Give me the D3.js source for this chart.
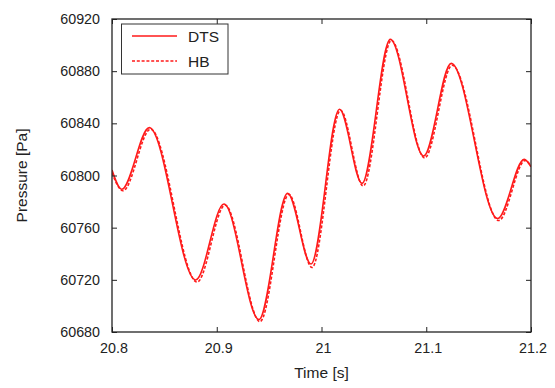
<!DOCTYPE html>
<html>
<head>
<meta charset="utf-8">
<script src="https://cdn.jsdelivr.net/npm/d3@7"></script>
<style>
  html, body { margin: 0; padding: 0; background: #fff; }
  svg { display: block; }
  text { font-family: "Liberation Sans", Arial, sans-serif; fill: #222; }
</style>
</head>
<body>
<svg id="chart" width="555" height="388"></svg>
<script>
// ---- data ----
const dtsTime = [20.800, 20.8093, 20.8356, 20.8799, 20.9069, 20.9403, 20.9677, 20.9900,
                 21.0172, 21.0387, 21.0657, 21.0976, 21.1238, 21.1682, 21.1936, 21.200];
const dtsPressure = [60804.2, 60789.4, 60836.7, 60719.9, 60778.1, 60689.6, 60786.4, 60732.1,
                     60850.8, 60794.0, 60904.4, 60815.0, 60886.0, 60767.0, 60812.4, 60806.7];
const hbTime = [20.800, 20.8105, 20.8368, 20.8812, 20.9080, 20.9413, 20.9688, 20.9910,
                21.0182, 21.0398, 21.0667, 21.0985, 21.1248, 21.1692, 21.1946, 21.200];
const hbPressure = [60802.0, 60788.3, 60835.5, 60718.3, 60777.3, 60688.0, 60785.5, 60729.5,
                    60850.0, 60792.0, 60903.5, 60813.5, 60884.5, 60765.5, 60811.5, 60807.0];
const xTicks = [20.8, 20.9, 21.0, 21.1, 21.2];
const xTickLabels = ["20.8", "20.9", "21", "21.1", "21.2"];
const yTicks = [60680, 60720, 60760, 60800, 60840, 60880, 60920];
const seriesNames = ["DTS", "HB"];

// ---- layout ----
const L = 112, R = 531, T = 19, B = 332;
const svg = d3.select("#chart");
const x = d3.scaleLinear().domain([20.8, 21.2]).range([L, R]);
const y = d3.scaleLinear().domain([60680, 60920]).range([B, T]);

svg.append("defs").append("clipPath").attr("id", "clip")
  .append("rect").attr("x", L).attr("y", T).attr("width", R - L).attr("height", B - T);

const line = d3.line().x(d => x(d[0])).y(d => y(d[1])).curve(d3.curveMonotoneX);
const dts = dtsTime.map((t, i) => [t, dtsPressure[i]]);
const hb = hbTime.map((t, i) => [t, hbPressure[i]]);

const plot = svg.append("g").attr("clip-path", "url(#clip)");
plot.append("path").datum(hb).attr("d", line)
  .attr("fill", "none").attr("stroke", "#ff1a1a").attr("stroke-width", 1.6)
  .attr("stroke-dasharray", "3,1.8");
plot.append("path").datum(dts).attr("d", line)
  .attr("fill", "none").attr("stroke", "#ff1a1a").attr("stroke-width", 1.6);

// axes (ticks inward, mirrored)
const tickLen = 5;
const fmtX = (d) => xTickLabels[xTicks.indexOf(d)];
const axB = svg.append("g").attr("transform", `translate(0,${B})`)
  .call(d3.axisBottom(x).tickValues(xTicks).tickFormat(fmtX).tickSizeInner(-tickLen).tickSizeOuter(0).tickPadding(11));
const axT = svg.append("g").attr("transform", `translate(0,${T})`)
  .call(d3.axisTop(x).tickValues(xTicks).tickFormat("").tickSizeInner(-tickLen).tickSizeOuter(0));
const axL = svg.append("g").attr("transform", `translate(${L},0)`)
  .call(d3.axisLeft(y).tickValues(yTicks).tickFormat(d3.format("d")).tickSizeInner(-tickLen).tickSizeOuter(0).tickPadding(12));
const axRt = svg.append("g").attr("transform", `translate(${R},0)`)
  .call(d3.axisRight(y).tickValues(yTicks).tickFormat("").tickSizeInner(-tickLen).tickSizeOuter(0));

[axB, axT, axL, axRt].forEach(a => {
  a.select(".domain").remove();
  a.selectAll(".tick line").attr("stroke", "#222").attr("stroke-width", 1);
  a.selectAll(".tick text").attr("font-size", 14.3).attr("fill", "#222")
    .style("font-family", '"Liberation Sans", Arial, sans-serif');
});
axB.selectAll(".tick text").attr("dx", "1.5");

svg.append("rect").attr("x", L).attr("y", T).attr("width", R - L).attr("height", B - T)
  .attr("fill", "none").attr("stroke", "#222").attr("stroke-width", 1.3);

// axis titles
svg.append("text").attr("x", (L + R) / 2).attr("y", 378).attr("text-anchor", "middle")
  .attr("font-size", 15.5).text("Time [s]");
svg.append("text").attr("transform", `translate(27,${(T + B) / 2}) rotate(-90)`)
  .attr("text-anchor", "middle").attr("font-size", 15.5).text("Pressure [Pa]");

// legend
const lg = svg.append("g");
lg.append("rect").attr("x", 121.5).attr("y", 24).attr("width", 106.5).attr("height", 50)
  .attr("fill", "#fff").attr("stroke", "#333").attr("stroke-width", 1);
seriesNames.forEach((name, i) => {
  const yy = 36 + i * 25;
  lg.append("line").attr("x1", 132).attr("x2", 177).attr("y1", yy).attr("y2", yy)
    .attr("stroke", "#ff1a1a").attr("stroke-width", 1.6)
    .attr("stroke-dasharray", i === 1 ? "3,1.8" : null);
  lg.append("text").attr("x", 188).attr("y", yy + 5.7).attr("font-size", 15.5).text(name);
});
</script>
</body>
</html>
